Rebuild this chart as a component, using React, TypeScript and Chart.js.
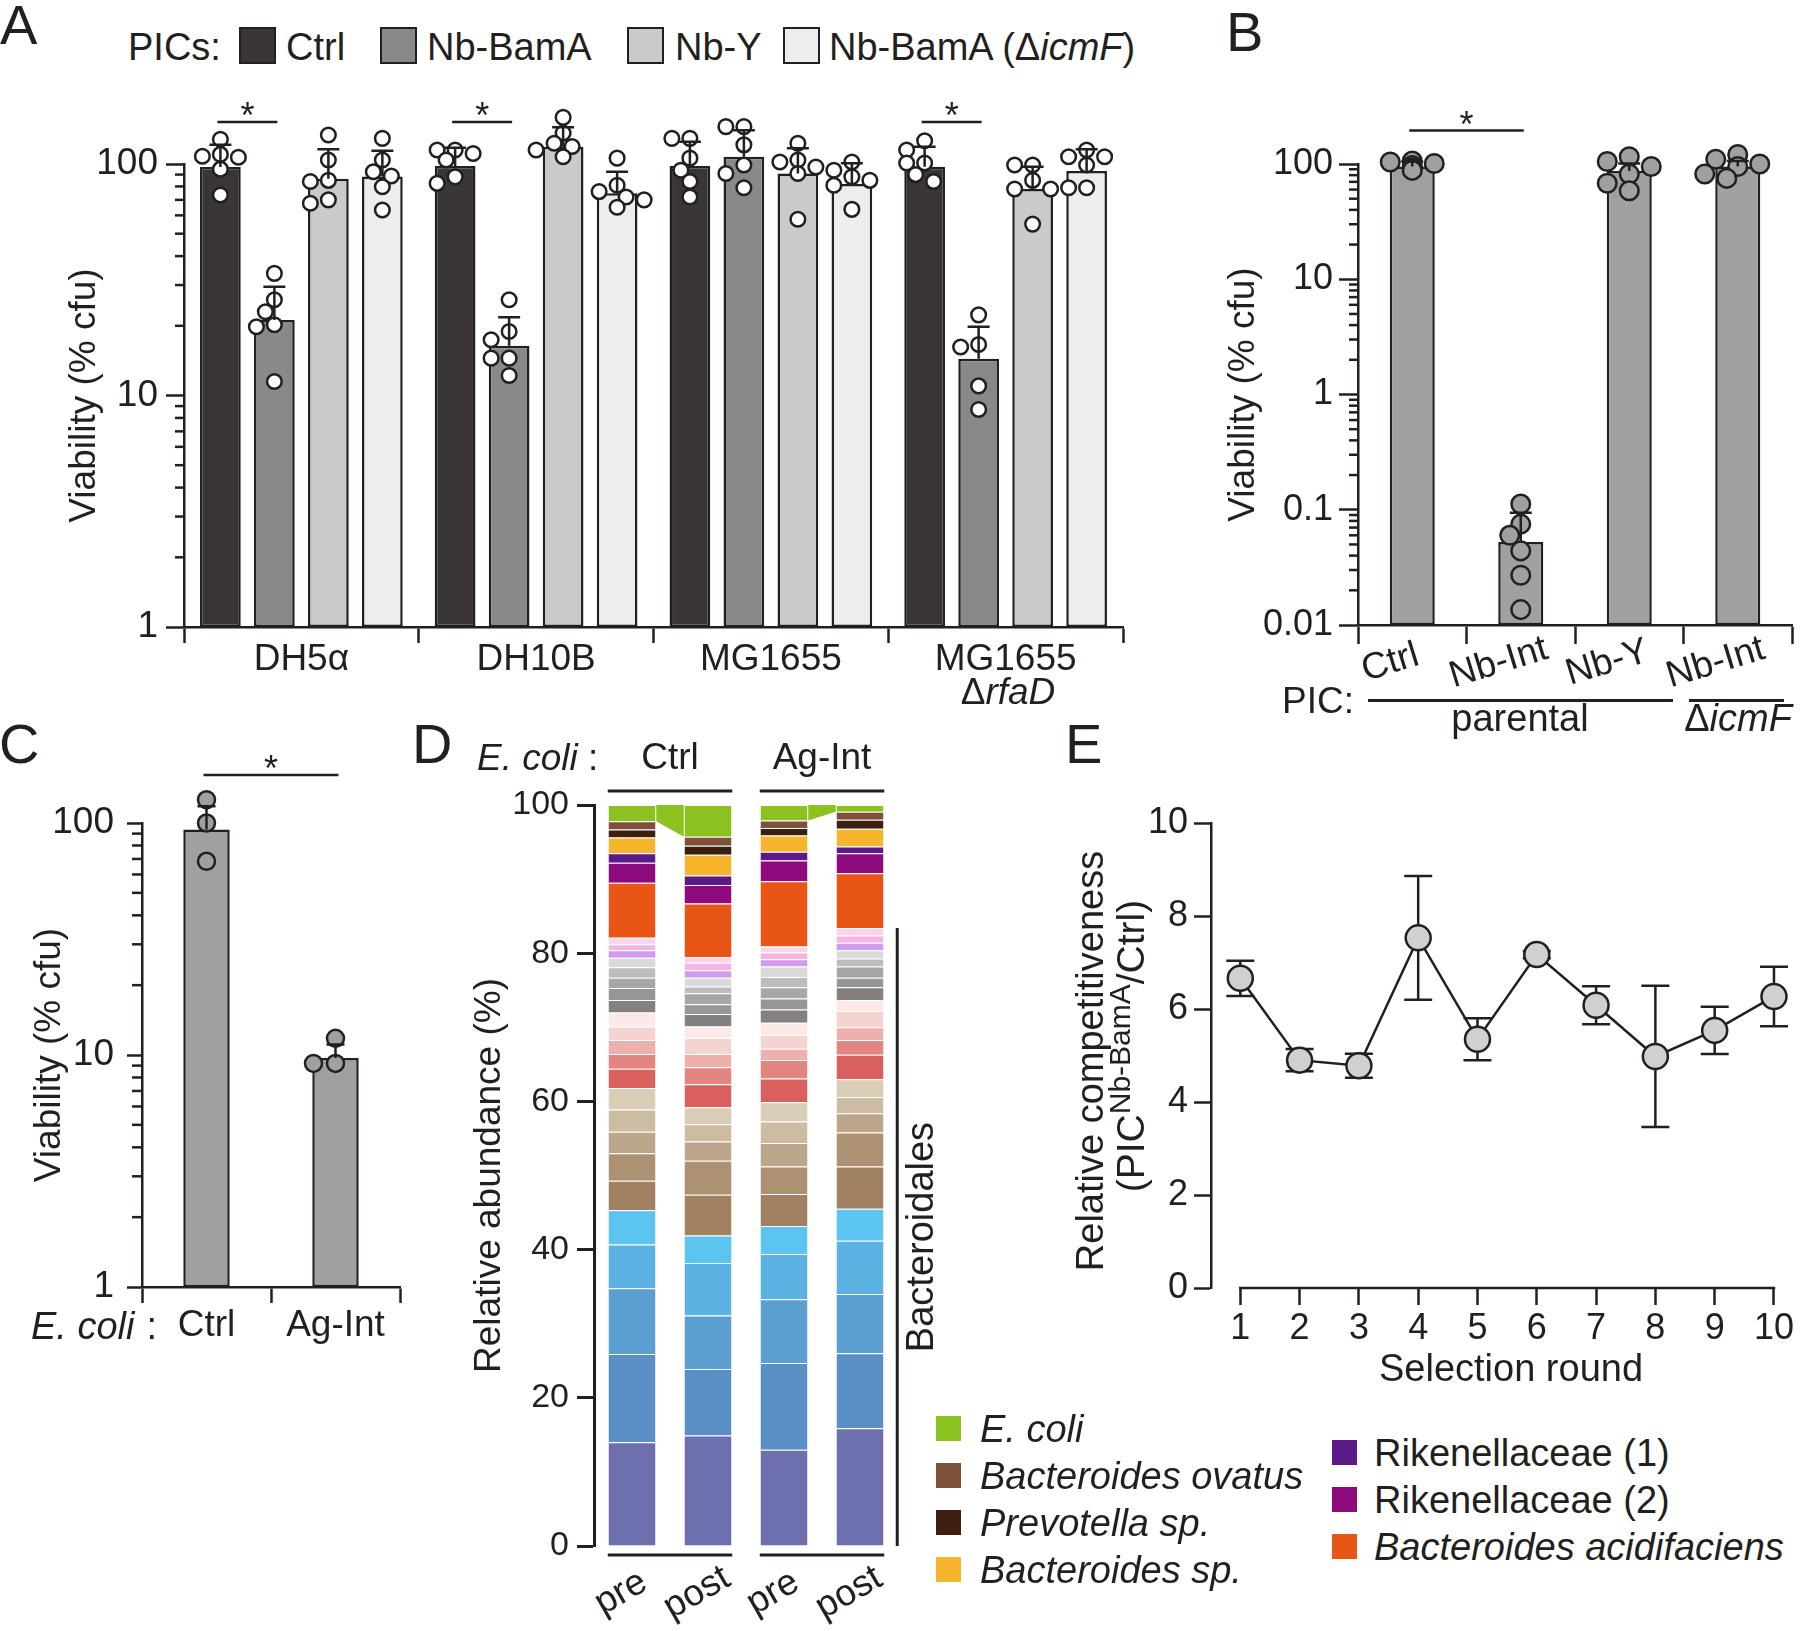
import React, { useEffect, useRef } from 'react';
import { Chart, registerables } from 'chart.js';

Chart.register(...registerables);

const INK = '#231f20';
const FONT = "'Liberation Sans', Arial, Helvetica, sans-serif";
Chart.defaults.font.family = FONT;
Chart.defaults.color = INK;

// ================= Panel A data =================
const strainsA = ['DH5α', 'DH10B', 'MG1655', 'MG1655'];
const picsA = ['Ctrl', 'Nb-BamA', 'Nb-Y', 'Nb-BamA (ΔicmF)'];
const viabilityA_Ctrl = [97, 98, 98, 97.4];
const viabilityA_NbBamA = [21.2, 16.4, 107.5, 14.4];
const viabilityA_NbY = [86.4, 118.8, 91, 78];
const viabilityA_IcmF = [88.2, 74.7, 82, 93.3];
const errTopA_Ctrl = [121, 117.6, 124.8, 118.8];
const errTopA_NbBamA = [29.5, 21.8, 140, 19.8];
const errTopA_NbY = [115.7, 144, 116.9, 97.4];
const errTopA_IcmF = [114, 92.6, 100.7, 115.7];
const pointsA_Ctrl = [[128, 110, 107, 108, 95, 73.5], [115, 115, 111, 104, 88, 82.5], [129, 129, 106, 94, 84, 72], [126, 115, 101, 101, 90, 84]];
const pointsA_NbBamA = [[33.7, 25.9, 23, 20.2, 19.8, 11.5], [25.9, 18.9, 17.4, 14.5, 14.5, 12.2], [145, 145, 121, 99, 91, 79], [22.3, 16.6, 16.2, 11, 8.7]];
const pointsA_NbY = [[133.5, 104, 85, 84, 70, 67.7], [159, 136, 123, 119, 115, 107.5], [123, 104, 102, 97, 91, 57.7], [99, 99, 85, 78, 78, 55]];
const pointsA_IcmF = [[129, 104, 92.6, 88.8, 79.8, 63.3], [106, 81, 76, 72, 70, 65], [102, 94, 88, 85, 81, 63.7], [115, 107.5, 107.5, 99, 79, 79]];
const significantGroupsA = [0, 1, 3];
const decadesA = [1, 10, 100];
const colorsA = ['#3a3536', '#898989', '#c9cacc', '#ededed'];

// ================= Panel B data =================
const picsB = ['Ctrl', 'Nb-Int', 'Nb-Y', 'Nb-Int'];
const viabilityB = [95, 0.0525, 87, 95];
const errTopB = [105, 0.094, 101, 106];
const pointsB = [[106, 104, 101, 97, 92, 88], [0.112, 0.075, 0.06, 0.044, 0.027, 0.0136], [115.6, 105, 95, 82, 68, 58.6], [121, 110, 100, 95, 82, 75]];
const decadesB = [0.01, 0.1, 1, 10, 100];

// ================= Panel C data =================
const strainsC = ['Ctrl', 'Ag-Int'];
const viabilityC = [93.7, 9.7];
const errTopC = [118, 11.1];
const pointsC = [[126, 100, 68.4], [11.8, 9.2, 9.2]];
const decadesC = [1, 10, 100];

// ================= Panel D data =================
const samplesD = ['pre', 'post', 'pre', 'post'];
const groupsD = ['Ctrl', 'Ag-Int'];
// taxa listed bottom -> top of each stacked bar
const taxaD = [
  'Bacteroidales OTU 1', 'Bacteroidales OTU 2', 'Bacteroidales OTU 3', 'Bacteroidales OTU 4', 'Bacteroidales OTU 5',
  'Bacteroidales OTU 6', 'Bacteroidales OTU 7', 'Bacteroidales OTU 8', 'Bacteroidales OTU 9', 'Bacteroidales OTU 10',
  'Bacteroidales OTU 11', 'Bacteroidales OTU 12', 'Bacteroidales OTU 13', 'Bacteroidales OTU 14', 'Bacteroidales OTU 15',
  'Bacteroidales OTU 16', 'Bacteroidales OTU 17', 'Bacteroidales OTU 18', 'Bacteroidales OTU 19', 'Bacteroidales OTU 20',
  'Bacteroidales OTU 21', 'Bacteroidales OTU 22', 'Bacteroidales OTU 23',
  'Bacteroides acidifaciens', 'Rikenellaceae (2)', 'Rikenellaceae (1)', 'Bacteroides sp.', 'Prevotella sp.', 'Bacteroides ovatus', 'E. coli',
];
const abundanceCtrlPre = [14.0, 11.9, 8.9, 5.9, 4.6, 4.0, 3.7, 2.9, 3.0, 2.9, 2.6, 2.0, 1.9, 1.8, 1.9, 1.7, 1.6, 1.4, 1.4, 1.3, 1.0, 0.8, 0.9, 7.4, 2.7, 1.3, 2.1, 1.1, 1.1, 2.2];
const abundanceCtrlPost = [14.9, 9.0, 7.2, 7.1, 3.7, 5.5, 4.6, 2.6, 2.3, 2.3, 3.1, 2.3, 1.8, 2.2, 1.5, 1.7, 1.3, 1.5, 0.9, 1.2, 1.0, 1.0, 0.8, 7.2, 2.5, 1.3, 2.8, 1.2, 1.2, 4.3];
const abundanceAgPre = [13.0, 11.7, 8.6, 6.1, 3.8, 4.3, 3.7, 3.2, 2.9, 2.6, 3.2, 2.5, 1.5, 1.9, 1.6, 1.8, 1.5, 1.5, 1.4, 1.4, 1.0, 0.9, 0.8, 8.8, 2.8, 1.2, 2.2, 1.0, 1.0, 2.1];
const abundanceAgPost = [15.9, 10.1, 8.0, 7.2, 4.3, 5.7, 4.6, 2.6, 2.2, 2.4, 3.3, 2.0, 1.7, 2.2, 1.5, 1.7, 1.3, 1.5, 1.1, 1.1, 1.0, 1.0, 1.0, 7.4, 2.7, 0.9, 2.4, 1.2, 1.1, 0.9];
const taxaColorsD = [
  '#6e6fae', '#5a8fc6', '#5b9fd1', '#5cb3e3', '#5bc4f0',
  '#a08162', '#ad9173', '#bca68b', '#cbbca2', '#d9cdb7',
  '#d9605d', '#e2847f', '#edb0ad', '#f5d3d1', '#fbe8e7',
  '#858080', '#969696', '#a7a7a7', '#bdbdbd', '#dadada',
  '#d39af2', '#f5b4e2', '#fad4ea',
  '#e85516', '#8c0a7d', '#5b1a88', '#f7b52d', '#3d1f10', '#7e513b', '#8cc21f',
];
const legendColD1 = ['E. coli', 'Bacteroides ovatus', 'Prevotella sp.', 'Bacteroides sp.'];
const legendColD2 = ['Rikenellaceae (1)', 'Rikenellaceae (2)', 'Bacteroides acidifaciens'];
const italicTaxa = ['E. coli', 'Bacteroides ovatus', 'Prevotella sp.', 'Bacteroides sp.', 'Bacteroides acidifaciens'];

// ================= Panel E data =================
const roundsE = [1, 2, 3, 4, 5, 6, 7, 8, 9, 10];
const competitivenessE = [6.66, 4.9, 4.78, 7.53, 5.35, 7.17, 6.08, 4.98, 5.54, 6.27];
const sdE = [0.38, 0.24, 0.26, 1.33, 0.45, 0.08, 0.41, 1.52, 0.51, 0.64];
const yTicksE = [0, 2, 4, 6, 8, 10];

// ================= helpers =================
const near = (v: number, list: number[]) => list.some((d) => Math.abs(v - d) / d < 1e-6);

function logValues(min: number, max: number) {
  const out: number[] = [];
  for (let e = Math.floor(Math.log10(min)); e <= Math.ceil(Math.log10(max)); e++) {
    for (let m = 1; m <= 9; m++) {
      const v = Number((m * Math.pow(10, e)).toPrecision(6));
      if (v >= min * 0.999 && v <= max * 1.001) out.push(v);
    }
  }
  return out;
}

function logAxis(o: any) {
  const vals = logValues(o.min, o.max);
  return {
    type: 'logarithmic',
    position: 'left',
    min: o.min,
    max: o.max,
    afterBuildTicks: (s: any) => {
      s.ticks = vals.map((v) => ({ value: v }));
    },
    afterFit: (s: any) => {
      s.width = o.width;
    },
    border: { display: true, color: INK, width: 2.5 },
    grid: {
      drawOnChartArea: false,
      drawTicks: true,
      tickLength: o.tickLen,
      tickWidth: 2.5,
      tickColor: (c: any) => (c.tick && near(c.tick.value, o.decades) ? INK : 'rgba(0,0,0,0)'),
    },
    ticks: {
      autoSkip: false,
      padding: o.pad,
      color: INK,
      font: { family: FONT, size: o.font },
      callback: (v: any) => (near(Number(v), o.decades) ? String(Number(v)) : ''),
    },
    title: {
      display: true,
      text: 'Viability (% cfu)',
      color: INK,
      font: { family: FONT, size: 37, lineHeight: 1.2 },
      padding: { top: o.titlePad, bottom: 0 },
    },
  };
}

function makeMinorTicks(len: number, decades: number[]) {
  return {
    id: 'minorTicks',
    afterDraw(chart: any) {
      const s = chart.scales.y;
      const ctx = chart.ctx;
      ctx.save();
      ctx.strokeStyle = INK;
      ctx.lineWidth = 2.5;
      s.ticks.forEach((t: any) => {
        if (near(t.value, decades)) return;
        const y = s.getPixelForValue(t.value);
        ctx.beginPath();
        ctx.moveTo(s.right - len, y);
        ctx.lineTo(s.right, y);
        ctx.stroke();
      });
      ctx.restore();
    },
  };
}

function swarm(ys: number[], step: number, minD: number) {
  const idx = ys.map((_, i) => i).sort((a, b) => ys[a] - ys[b]);
  const placed: { x: number; y: number }[] = [];
  idx.forEach((i) => {
    const y = ys[i];
    const cands = [0, -step, step, -2 * step, 2 * step, -3 * step, 3 * step];
    let cx = 0;
    for (const c of cands) {
      if (placed.every((p) => Math.hypot(p.x - c, p.y - y) >= minD)) {
        cx = c;
        break;
      }
    }
    placed.push({ x: cx, y });
  });
  return placed;
}

function makeBarExtras(o: any) {
  return {
    id: 'barExtras',
    afterDatasetsDraw(chart: any) {
      const ctx = chart.ctx;
      const ys = chart.scales.y;
      ctx.save();
      chart.data.datasets.forEach((ds: any, di: number) => {
        const meta = chart.getDatasetMeta(di);
        meta.data.forEach((bar: any, j: number) => {
          const x = bar.x;
          if (ds.dots && ds.dots[j]) {
            const placed = swarm(ds.dots[j].map((v: number) => ys.getPixelForValue(v)), o.step, o.minD);
            placed.forEach((p) => {
              ctx.beginPath();
              ctx.arc(x + p.x, p.y, o.r, 0, Math.PI * 2);
              ctx.fillStyle = o.fill;
              ctx.fill();
              ctx.lineWidth = 2.5;
              ctx.strokeStyle = INK;
              ctx.stroke();
            });
          }
          if (ds.errTop) {
            const ey = ys.getPixelForValue(ds.errTop[j]);
            ctx.beginPath();
            ctx.moveTo(x, bar.y);
            ctx.lineTo(x, ey);
            ctx.moveTo(x - o.cap, ey);
            ctx.lineTo(x + o.cap, ey);
            ctx.lineWidth = 2.5;
            ctx.strokeStyle = INK;
            ctx.stroke();
          }
        });
      });
      (o.sig || []).forEach((s: any) => {
        const a = chart.getDatasetMeta(s.a).data[s.ga];
        const b = chart.getDatasetMeta(s.b).data[s.gb];
        const y = chart.chartArea.top - o.sigRise;
        ctx.beginPath();
        ctx.moveTo(a.x - 3, y);
        ctx.lineTo(b.x + 3, y);
        ctx.lineWidth = 2.5;
        ctx.strokeStyle = INK;
        ctx.stroke();
        ctx.fillStyle = INK;
        ctx.font = `36px ${FONT}`;
        ctx.textAlign = 'center';
        ctx.textBaseline = 'alphabetic';
        ctx.fillText('*', (a.x + b.x) / 2, y + 6);
      });
      ctx.restore();
    },
  };
}

function makeRotLabels(o: any) {
  return {
    id: 'rotLabels',
    afterDraw(chart: any) {
      const xs = chart.scales.x;
      const ctx = chart.ctx;
      ctx.save();
      ctx.fillStyle = INK;
      ctx.font = `${o.size}px ${FONT}`;
      ctx.textAlign = 'center';
      ctx.textBaseline = 'middle';
      chart.data.labels.forEach((lab: string, i: number) => {
        ctx.save();
        ctx.translate(xs.getPixelForTick(i) + o.dx, chart.chartArea.bottom + o.dy);
        ctx.rotate((-o.angle * Math.PI) / 180);
        ctx.fillText(lab, 0, 0);
        ctx.restore();
      });
      ctx.restore();
    },
  };
}

const baseOptions = (padding: any) => ({
  animation: false,
  responsive: false,
  maintainAspectRatio: false,
  layout: { padding },
  plugins: { legend: { display: false }, tooltip: { enabled: false } },
});

// ================= Panel A =================
function configA(): any {
  const series = [
    { data: viabilityA_Ctrl, errTop: errTopA_Ctrl, dots: pointsA_Ctrl },
    { data: viabilityA_NbBamA, errTop: errTopA_NbBamA, dots: pointsA_NbBamA },
    { data: viabilityA_NbY, errTop: errTopA_NbY, dots: pointsA_NbY },
    { data: viabilityA_IcmF, errTop: errTopA_IcmF, dots: pointsA_IcmF },
  ].map((d, i) => ({
    ...d,
    label: picsA[i],
    backgroundColor: colorsA[i],
    borderColor: INK,
    borderWidth: 2.5,
    borderSkipped: false,
    categoryPercentage: 0.92,
    barPercentage: 0.754,
    clip: false,
  }));
  return {
    type: 'bar',
    data: { labels: strainsA, datasets: series },
    options: {
      ...baseOptions({ top: 74, right: 17, left: 0, bottom: 0 }),
      scales: {
        x: {
          type: 'category',
          offset: true,
          afterFit: (s: any) => {
            s.height = 83;
          },
          border: { color: INK, width: 2.5 },
          grid: { offset: true, drawOnChartArea: false, tickLength: 16, tickWidth: 2.5, tickColor: INK },
          ticks: { color: INK, font: { family: FONT, size: 37, lineHeight: 1 }, padding: -2, autoSkip: false, maxRotation: 0 },
        },
        y: logAxis({ min: 1, max: 100, decades: decadesA, width: 184, tickLen: 18, pad: 8, font: 37, titlePad: 63 }),
      },
    },
    plugins: [
      makeBarExtras({
        r: 7.3,
        step: 9,
        minD: 13,
        fill: '#ffffff',
        cap: 11,
        sig: significantGroupsA.map((g) => ({ a: 0, ga: g, b: 1, gb: g })),
        sigRise: 42,
      }),
      makeMinorTicks(9, decadesA),
    ],
  };
}

// ================= Panel B =================
function configB(): any {
  return {
    type: 'bar',
    data: {
      labels: picsB,
      datasets: [
        {
          label: 'Viability',
          data: viabilityB,
          errTop: errTopB,
          dots: pointsB,
          backgroundColor: '#a0a0a0',
          borderColor: INK,
          borderWidth: 2.5,
          borderSkipped: false,
          barPercentage: 0.415,
          categoryPercentage: 1,
          clip: false,
        },
      ],
    },
    options: {
      ...baseOptions({ top: 74, right: 8, left: 0, bottom: 0 }),
      scales: {
        x: {
          type: 'category',
          offset: true,
          afterFit: (s: any) => {
            s.height = 85;
          },
          border: { color: INK, width: 2.5 },
          grid: { offset: true, drawOnChartArea: false, tickLength: 19, tickWidth: 2.5, tickColor: INK },
          ticks: { display: false },
        },
        y: logAxis({ min: 0.01, max: 100, decades: decadesB, width: 158, tickLen: 19, pad: 6, font: 36, titlePad: 22 }),
      },
    },
    plugins: [
      makeBarExtras({ r: 9.3, step: 11, minD: 15, fill: '#a0a0a0', cap: 11, sig: [{ a: 0, ga: 0, b: 0, gb: 1 }], sigRise: 33.5 }),
      makeMinorTicks(9, decadesB),
      makeRotLabels({ dx: -22, dy: 38, angle: 17, size: 37 }),
    ],
  };
}

// ================= Panel C =================
function configC(): any {
  return {
    type: 'bar',
    data: {
      labels: strainsC,
      datasets: [
        {
          label: 'Viability',
          data: viabilityC,
          errTop: errTopC,
          dots: pointsC,
          backgroundColor: '#a0a0a0',
          borderColor: INK,
          borderWidth: 2.5,
          borderSkipped: false,
          barPercentage: 0.36,
          categoryPercentage: 1,
          clip: false,
        },
      ],
    },
    options: {
      ...baseOptions({ top: 83, right: 20, left: 0, bottom: 0 }),
      scales: {
        x: {
          type: 'category',
          offset: true,
          afterFit: (s: any) => {
            s.height = 73;
          },
          border: { color: INK, width: 2.5 },
          grid: { offset: true, drawOnChartArea: false, tickLength: 16, tickWidth: 2.5, tickColor: INK },
          ticks: { color: INK, font: { family: FONT, size: 37, lineHeight: 1 }, padding: 4, autoSkip: false, maxRotation: 0 },
        },
        y: logAxis({ min: 1, max: 100, decades: decadesC, width: 142, tickLen: 15, pad: 13, font: 37, titlePad: 28 }),
      },
    },
    plugins: [
      makeBarExtras({ r: 8.5, step: 11, minD: 15, fill: '#a0a0a0', cap: 9, sig: [{ a: 0, ga: 0, b: 0, gb: 1 }], sigRise: 48 }),
      makeMinorTicks(10, decadesC),
    ],
  };
}

// ================= Panel D =================
function makeStackExtras() {
  return {
    id: 'stackExtras',
    afterDatasetsDraw(chart: any) {
      const ctx = chart.ctx;
      const ca = chart.chartArea;
      const ys = chart.scales.y;
      const n = chart.data.datasets.length;
      const topMeta = chart.getDatasetMeta(n - 1);
      const baseMeta = chart.getDatasetMeta(0);
      ctx.save();
      const pairs = [
        [0, 1],
        [2, 3],
      ];
      pairs.forEach((g, gi) => {
        const a = topMeta.data[g[0]];
        const b = topMeta.data[g[1]];
        const ar = a.x + a.width / 2;
        const bl = b.x - b.width / 2;
        ctx.beginPath();
        ctx.moveTo(ar, a.y);
        ctx.lineTo(bl, b.y);
        ctx.lineTo(bl, b.base);
        ctx.lineTo(ar, a.base);
        ctx.closePath();
        ctx.fillStyle = chart.data.datasets[n - 1].backgroundColor;
        ctx.fill();
        const f = baseMeta.data[g[0]];
        const l = baseMeta.data[g[1]];
        const left = f.x - f.width / 2;
        const right = l.x + l.width / 2;
        ctx.strokeStyle = INK;
        ctx.lineWidth = 3;
        ctx.beginPath();
        ctx.moveTo(left, ca.top - 14);
        ctx.lineTo(right, ca.top - 14);
        ctx.moveTo(left, ca.bottom + 9);
        ctx.lineTo(right, ca.bottom + 9);
        ctx.stroke();
        ctx.fillStyle = INK;
        ctx.font = `37px ${FONT}`;
        ctx.textAlign = 'center';
        ctx.textBaseline = 'middle';
        ctx.fillText(groupsD[gi], (left + right) / 2, ca.top - 46);
      });
      // Bacteroidales bracket
      const otuCount = taxaD.filter((t) => t.startsWith('Bacteroidales OTU')).length;
      let maxCum = 0;
      samplesD.forEach((_, j) => {
        let s = 0;
        for (let k = 0; k < otuCount; k++) s += chart.data.datasets[k].data[j];
        maxCum = Math.max(maxCum, s);
      });
      const last = baseMeta.data[samplesD.length - 1];
      const bx = last.x + last.width / 2 + 13;
      const y0 = ys.getPixelForValue(0);
      const y1 = ys.getPixelForValue(maxCum);
      ctx.strokeStyle = INK;
      ctx.lineWidth = 3;
      ctx.beginPath();
      ctx.moveTo(bx, y0);
      ctx.lineTo(bx, y1);
      ctx.stroke();
      ctx.save();
      ctx.translate(bx + 25, (y0 + y1) / 2);
      ctx.rotate(-Math.PI / 2);
      ctx.fillStyle = INK;
      ctx.font = `38px ${FONT}`;
      ctx.textAlign = 'center';
      ctx.textBaseline = 'middle';
      ctx.fillText('Bacteroidales', 0, 0);
      ctx.restore();
      ctx.restore();
    },
  };
}

function configD(): any {
  const bars = [abundanceCtrlPre, abundanceCtrlPost, abundanceAgPre, abundanceAgPost];
  const datasets = taxaD.map((name, k) => ({
    label: name,
    data: bars.map((b) => b[k]),
    backgroundColor: taxaColorsD[k],
    borderColor: 'rgba(255,255,255,0.75)',
    borderWidth: 1,
    barPercentage: 0.638,
    categoryPercentage: 1,
  }));
  return {
    type: 'bar',
    data: { labels: samplesD, datasets },
    options: {
      ...baseOptions({ top: 65, right: 62, left: 0, bottom: 0 }),
      scales: {
        x: {
          type: 'category',
          stacked: true,
          offset: true,
          afterFit: (s: any) => {
            s.height = 85;
          },
          border: { display: false },
          grid: { display: false },
          ticks: { display: false },
        },
        y: {
          type: 'linear',
          stacked: true,
          min: 0,
          max: 100,
          afterFit: (s: any) => {
            s.width = 174;
          },
          border: { display: true, color: INK, width: 3 },
          grid: { drawOnChartArea: false, drawTicks: true, tickLength: 17, tickWidth: 3, tickColor: INK },
          ticks: { stepSize: 20, padding: 8, color: INK, font: { family: FONT, size: 34 } },
          title: {
            display: true,
            text: 'Relative abundance (%)',
            color: INK,
            font: { family: FONT, size: 37, lineHeight: 1.2 },
            padding: { top: 48, bottom: 0 },
          },
        },
      },
    },
    plugins: [makeStackExtras(), makeRotLabels({ dx: -11, dy: 47, angle: 30, size: 37 })],
  };
}

// ================= Panel E =================
function makeLineExtras() {
  return {
    id: 'lineExtras',
    beforeDatasetsDraw(chart: any) {
      const ctx = chart.ctx;
      const ys = chart.scales.y;
      const ds = chart.data.datasets[0];
      const meta = chart.getDatasetMeta(0);
      ctx.save();
      ctx.strokeStyle = INK;
      ctx.lineWidth = 2.5;
      meta.data.forEach((pt: any, i: number) => {
        const hi = ys.getPixelForValue(ds.data[i].y + ds.sd[i]);
        const lo = ys.getPixelForValue(ds.data[i].y - ds.sd[i]);
        ctx.beginPath();
        ctx.moveTo(pt.x, hi);
        ctx.lineTo(pt.x, lo);
        ctx.moveTo(pt.x - 14, hi);
        ctx.lineTo(pt.x + 14, hi);
        ctx.moveTo(pt.x - 14, lo);
        ctx.lineTo(pt.x + 14, lo);
        ctx.stroke();
      });
      ctx.restore();
    },
    afterDraw(chart: any) {
      const ctx = chart.ctx;
      const xs = chart.scales.x;
      const y = chart.chartArea.bottom;
      ctx.save();
      ctx.strokeStyle = INK;
      ctx.lineWidth = 2.5;
      ctx.beginPath();
      ctx.moveTo(xs.getPixelForValue(roundsE[0]) - 1.25, y);
      ctx.lineTo(xs.getPixelForValue(roundsE[roundsE.length - 1]) + 1.25, y);
      ctx.stroke();
      ctx.restore();
    },
  };
}

function configE(): any {
  return {
    type: 'line',
    data: {
      datasets: [
        {
          label: 'Relative competitiveness',
          data: roundsE.map((r, i) => ({ x: r, y: competitivenessE[i] })),
          sd: sdE,
          borderColor: INK,
          borderWidth: 2.5,
          pointRadius: 12.5,
          pointBackgroundColor: '#d0d0d2',
          pointBorderColor: INK,
          pointBorderWidth: 2.5,
          tension: 0,
          clip: false,
        },
      ],
    },
    options: {
      ...baseOptions({ top: 83, right: 18, left: 0, bottom: 0 }),
      scales: {
        x: {
          type: 'linear',
          min: 0.506,
          max: 10,
          afterBuildTicks: (s: any) => {
            s.ticks = roundsE.map((v) => ({ value: v }));
          },
          afterFit: (s: any) => {
            s.height = 112;
          },
          border: { display: false },
          grid: { drawOnChartArea: false, drawTicks: true, tickLength: 17, tickWidth: 2.5, tickColor: INK },
          ticks: { color: INK, font: { family: FONT, size: 36, lineHeight: 1 }, padding: 6, autoSkip: false, maxRotation: 0 },
        },
        y: {
          type: 'linear',
          min: 0,
          max: 10,
          afterBuildTicks: (s: any) => {
            s.ticks = yTicksE.map((v) => ({ value: v }));
          },
          afterFit: (s: any) => {
            s.width = 161;
          },
          border: { display: true, color: INK, width: 2.5 },
          grid: { drawOnChartArea: false, drawTicks: true, tickLength: 17, tickWidth: 2.5, tickColor: INK },
          ticks: { color: INK, font: { family: FONT, size: 36 }, padding: 6, autoSkip: false },
        },
      },
    },
    plugins: [makeLineExtras()],
  };
}

// ================= components =================
function ChartBox({ rect, build }: { rect: number[]; build: () => any }) {
  const ref = useRef<HTMLCanvasElement | null>(null);
  useEffect(() => {
    const chart = new Chart(ref.current as HTMLCanvasElement, build());
    return () => chart.destroy();
  }, []);
  const [left, top, width, height] = rect;
  return <canvas ref={ref} width={width} height={height} style={{ position: 'absolute', left, top, width, height }} />;
}

function Txt({ x, y, size = 37, anchor = 'start', children, style = {} }: any) {
  const tx = anchor === 'middle' ? '-50%' : anchor === 'end' ? '-100%' : '0';
  return (
    <div
      style={{
        position: 'absolute',
        left: x,
        top: y - 0.488 * size,
        fontFamily: FONT,
        fontSize: size,
        lineHeight: `${size}px`,
        color: INK,
        whiteSpace: 'nowrap',
        transform: `translateX(${tx})`,
        ...style,
      }}
    >
      {children}
    </div>
  );
}

function RotTxt({ x, y, size = 38, children }: any) {
  return (
    <div
      style={{
        position: 'absolute',
        left: x,
        top: y,
        fontFamily: FONT,
        fontSize: size,
        lineHeight: `${size}px`,
        color: INK,
        whiteSpace: 'nowrap',
        transform: 'translate(-50%, -50%) rotate(-90deg)',
      }}
    >
      {children}
    </div>
  );
}

function Box({ x, y, w, h, color, border = true }: any) {
  return (
    <div
      style={{
        position: 'absolute',
        left: x,
        top: y,
        width: w,
        height: h,
        boxSizing: 'border-box',
        background: color,
        border: border ? `2.5px solid ${INK}` : 'none',
      }}
    />
  );
}

function Hline({ x, y, w }: any) {
  return <div style={{ position: 'absolute', left: x, top: y - 1.5, width: w, height: 3, background: INK }} />;
}

const legendPosA = [
  { box: 239, text: 286 },
  { box: 380, text: 427 },
  { box: 627, text: 675 },
  { box: 783, text: 829 },
];

export default function App() {
  const colorOf = (name: string) => taxaColorsD[taxaD.indexOf(name)];
  const taxonLabel = (name: string) => (italicTaxa.includes(name) ? <i>{name}</i> : name);
  return (
    <div
      style={{
        position: 'absolute',
        left: 0,
        top: 0,
        width: 1800,
        height: 1631,
        background: '#ffffff',
        overflow: 'hidden',
        fontFamily: FONT,
        color: INK,
      }}
    >
      <ChartBox rect={[0, 90, 1140, 620]} build={configA} />
      <ChartBox rect={[1200, 90, 600, 620]} build={configB} />
      <ChartBox rect={[0, 740, 420, 620]} build={configC} />
      <ChartBox rect={[420, 740, 540, 891]} build={configD} />
      <ChartBox rect={[1050, 740, 750, 660]} build={configE} />

      {/* panel letters */}
      <Txt x={0} y={24} size={56}>A</Txt>
      <Txt x={1226} y={31} size={56}>B</Txt>
      <Txt x={-1} y={743} size={56}>C</Txt>
      <Txt x={412} y={743} size={56}>D</Txt>
      <Txt x={1065} y={743} size={56}>E</Txt>

      {/* panel A legend */}
      <Txt x={128} y={47} size={38}>PICs:</Txt>
      {picsA.map((p, i) => (
        <React.Fragment key={p}>
          <Box x={legendPosA[i].box} y={27} w={37} h={37} color={colorsA[i]} />
          <Txt x={legendPosA[i].text} y={47} size={38}>
            {i === 3 ? (
              <>
                Nb-BamA (Δ<i>icmF</i>)
              </>
            ) : (
              p
            )}
          </Txt>
        </React.Fragment>
      ))}
      <Txt x={1008} y={691} size={37} anchor="middle">
        Δ<i>rfaD</i>
      </Txt>

      {/* panel B bottom annotations */}
      <Txt x={1282} y={700} size={37}>PIC:</Txt>
      <Hline x={1368} y={700} w={305} />
      <Hline x={1689} y={700} w={95} />
      <Txt x={1520} y={718} size={38} anchor="middle">parental</Txt>
      <Txt x={1738} y={718} size={38} anchor="middle">
        Δ<i>icmF</i>
      </Txt>

      {/* panel C */}
      <Txt x={31} y={1326} size={38}>
        <i>E. coli</i>
        <span style={{ marginLeft: 12 }}>:</span>
      </Txt>

      {/* panel D */}
      <Txt x={477} y={757} size={37}>
        <i>E. coli</i> :
      </Txt>
      {legendColD1.map((n, i) => (
        <React.Fragment key={n}>
          <Box x={936} y={1416 + i * 47} w={25} h={25} color={colorOf(n)} border={false} />
          <Txt x={980} y={1429 + i * 47} size={38}>
            {taxonLabel(n)}
          </Txt>
        </React.Fragment>
      ))}
      {legendColD2.map((n, i) => (
        <React.Fragment key={n}>
          <Box x={1332} y={1440 + i * 47} w={25} h={25} color={colorOf(n)} border={false} />
          <Txt x={1374} y={1453 + i * 47} size={38}>
            {taxonLabel(n)}
          </Txt>
        </React.Fragment>
      ))}

      {/* panel E titles */}
      <Txt x={1511} y={1368} size={38} anchor="middle">Selection round</Txt>
      <RotTxt x={1090} y={1061} size={38}>Relative competitiveness</RotTxt>
      <RotTxt x={1132} y={1046} size={39}>
        (PIC<span style={{ fontSize: 30, position: 'relative', top: -14 }}>Nb-BamA</span>/Ctrl)
      </RotTxt>
    </div>
  );
}
